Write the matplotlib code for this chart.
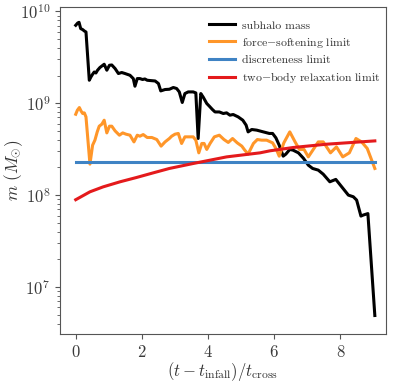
import numpy as np
import matplotlib
matplotlib.use("Agg")
import matplotlib.pyplot as plt

plt.rcParams['font.family'] = 'serif'
plt.rcParams['font.serif'] = ['cmr10']
plt.rcParams['mathtext.fontset'] = 'cm'
plt.rcParams['axes.formatter.use_mathtext'] = True
plt.rcParams['axes.unicode_minus'] = False

# subhalo mass: (t, log10 m)
t_mass = [0.00, 0.06, 0.10, 0.15, 0.21, 0.26, 0.31, 0.41, 0.46, 0.51, 0.56, 0.61, 0.66, 0.73,
          0.82, 0.86, 0.94, 1.02, 1.09, 1.19, 1.29, 1.39, 1.49, 1.64, 1.74, 1.79, 1.86, 1.94,
          2.02, 2.09, 2.16, 2.24, 2.40, 2.50, 2.57, 2.70, 2.83, 2.95, 3.05, 3.13, 3.22, 3.30,
          3.40, 3.55, 3.63, 3.70, 3.78, 3.85, 3.96, 4.04, 4.13, 4.21, 4.34, 4.46, 4.56, 4.66,
          4.76, 4.91, 5.05, 5.15, 5.21, 5.32, 5.47, 5.67, 5.85, 5.95, 6.05, 6.15, 6.27, 6.35,
          6.47, 6.57, 6.73, 6.88, 7.03, 7.16, 7.33, 7.48, 7.68, 7.86, 8.04, 8.24, 8.39, 8.49,
          8.62, 8.69, 8.83, 9.04]
logm_mass = [9.848, 9.873, 9.880, 9.812, 9.801, 9.786, 9.775, 9.250, 9.286, 9.315, 9.340, 9.329,
             9.359, 9.388, 9.413, 9.424, 9.359, 9.413, 9.416, 9.377, 9.323, 9.334, 9.323, 9.304,
             9.268, 9.185, 9.268, 9.268, 9.258, 9.264, 9.250, 9.247, 9.242, 9.214, 9.134, 9.149,
             9.152, 9.171, 9.160, 9.123, 9.008, 9.105, 9.123, 9.123, 9.112, 8.616, 9.105, 9.068,
             8.997, 8.967, 8.932, 8.905, 8.905, 8.888, 8.895, 8.870, 8.877, 8.851, 8.815, 8.761,
             8.688, 8.714, 8.707, 8.688, 8.671, 8.671, 8.623, 8.543, 8.424, 8.446, 8.497, 8.489,
             8.460, 8.402, 8.326, 8.290, 8.272, 8.228, 8.145, 8.171, 8.090, 8.000, 7.982, 7.946,
             7.772, 7.783, 7.799, 6.690]

# force-softening limit
t_soft = [0.00, 0.05, 0.11, 0.16, 0.21, 0.26, 0.31, 0.43, 0.51, 0.58, 0.65, 0.71, 0.79, 0.86,
          0.94, 1.02, 1.09, 1.19, 1.32, 1.42, 1.52, 1.64, 1.76, 1.86, 1.94, 2.04, 2.16, 2.30,
          2.45, 2.58, 2.70, 2.83, 2.90, 3.00, 3.10, 3.20, 3.30, 3.43, 3.55, 3.63, 3.72, 3.81,
          3.88, 3.96, 4.06, 4.19, 4.34, 4.48, 4.61, 4.74, 4.88, 5.02, 5.11, 5.21, 5.37, 5.49,
          5.62, 5.77, 5.95, 6.05, 6.15, 6.29, 6.47, 6.63, 6.76, 6.90, 7.03, 7.18, 7.33, 7.48,
          7.70, 7.88, 8.07, 8.27, 8.47, 8.64, 8.81, 9.04]
logm_soft = [8.880, 8.924, 8.953, 8.916, 8.888, 8.895, 8.851, 8.337, 8.543, 8.598, 8.688, 8.750,
             8.772, 8.815, 8.677, 8.750, 8.750, 8.699, 8.652, 8.677, 8.663, 8.652, 8.579, 8.652,
             8.641, 8.659, 8.627, 8.627, 8.605, 8.533, 8.579, 8.616, 8.641, 8.663, 8.671, 8.562,
             8.634, 8.634, 8.634, 8.598, 8.460, 8.562, 8.562, 8.497, 8.562, 8.634, 8.652, 8.605,
             8.573, 8.616, 8.569, 8.533, 8.489, 8.446, 8.562, 8.605, 8.598, 8.598, 8.569, 8.508,
             8.424, 8.569, 8.688, 8.579, 8.497, 8.497, 8.416, 8.497, 8.579, 8.579, 8.460, 8.525,
             8.416, 8.460, 8.616, 8.579, 8.508, 8.290]

# discreteness limit
t_disc = [0.00, 9.04]
logm_disc = [8.359, 8.359]

# two-body relaxation limit
t_relax = [0.00, 0.43, 0.83, 1.34, 1.84, 2.34, 2.83, 3.55, 4.56, 5.57, 5.87, 6.57, 7.58, 9.04]
logm_relax = [7.950, 8.036, 8.090, 8.145, 8.192, 8.242, 8.290, 8.344, 8.416, 8.460, 8.482,
              8.518, 8.554, 8.590]

labels = ['subhalo mass', r'force$-$softening limit', 'discreteness limit',
          r'two$-$body relaxation limit']
colors = ['black', '#ff9629', '#3f83c4', '#e41a1c']

fig = plt.figure(figsize=(3.95, 3.82), dpi=100)
ax = fig.add_axes([0.152, 0.1257, 0.825, 0.856])

series = [(t_mass, logm_mass), (t_soft, logm_soft), (t_disc, logm_disc), (t_relax, logm_relax)]
for (t, lm), lab, c in zip(series, labels, colors):
    ax.plot(t, 10 ** np.array(lm), color=c, lw=2.2, label=lab)

ax.set_yscale('log')
ax.set_ylim(10 ** 6.489, 10 ** 10.047)
ax.set_xlim(-0.474, 9.375)
ax.set_xticks([0, 2, 4, 6, 8])
for s in ax.spines.values():
    s.set_color('#555555')
ax.tick_params(colors='#555555', labelcolor='#3a3a3a', labelsize=12)
ax.tick_params(which='minor', colors='#555555')

ax.set_xlabel(r'$(t-t_{\rm infall})/t_{\rm cross}$', fontsize=12, color='#333333')
ax.set_ylabel(r'$m\ (M_{\odot})$', fontsize=12.5, color='#333333')
ax.xaxis.set_label_coords(0.5, -0.08)
ax.yaxis.set_label_coords(-0.107, 0.5)

leg = ax.legend(loc='upper right', bbox_to_anchor=(1.012, 0.988), frameon=False, fontsize=8.5,
                handlelength=2.2, handletextpad=0.6, labelspacing=0.42, borderaxespad=0.4)
for txt in leg.get_texts():
    txt.set_color('#333333')

fig.savefig('out.png', dpi=100)
